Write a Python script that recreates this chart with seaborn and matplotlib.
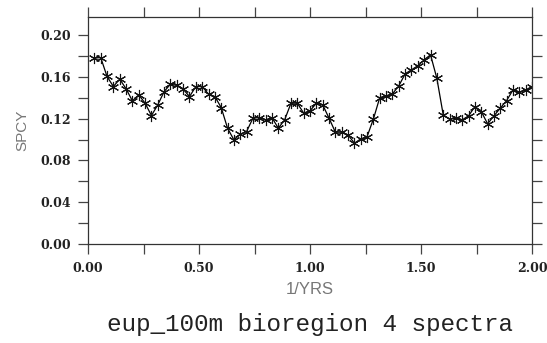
import numpy as np
import pandas as pd
import matplotlib
matplotlib.use("Agg")
import matplotlib.pyplot as plt
import seaborn as sns
from matplotlib.ticker import MultipleLocator, FormatStrFormatter

# Spectral estimate: frequency in cycles per year (k/35, k = 1..70)
freq_index = list(range(1, 71))
spcy = [
    0.1777, 0.1783, 0.1602, 0.1506, 0.1577, 0.1484, 0.1369, 0.1427, 0.1347, 0.1229,
    0.1331, 0.1458, 0.1529, 0.1516, 0.1481, 0.1410, 0.1506, 0.1506, 0.1433, 0.1410,
    0.1305, 0.1108, 0.0997, 0.1051, 0.1076, 0.1204, 0.1210, 0.1188, 0.1210, 0.1108,
    0.1188, 0.1347, 0.1347, 0.1252, 0.1274, 0.1347, 0.1331, 0.1204, 0.1070, 0.1070,
    0.1044, 0.0965, 0.1006, 0.1028, 0.1197, 0.1401, 0.1417, 0.1436, 0.1513, 0.1627,
    0.1666, 0.1704, 0.1761, 0.1809, 0.1584, 0.1236, 0.1194, 0.1204, 0.1188, 0.1226,
    0.1315, 0.1267, 0.1150, 0.1226, 0.1300, 0.1372, 0.1474, 0.1449, 0.1474, 0.1506,
]
record_years = 35
x_ticks = [0.0, 0.5, 1.0, 1.5, 2.0]
y_ticks = [0.00, 0.04, 0.08, 0.12, 0.16, 0.20]

df = pd.DataFrame({"freq": [k / record_years for k in freq_index], "spcy": spcy})

sns.set_style("ticks")
plt.rcParams["font.family"] = ["DejaVu Sans"]

fig = plt.figure(figsize=(5.47, 3.43), dpi=100)
ax = fig.add_axes([0.1609, 0.2878, 0.8117, 0.6618])

sns.lineplot(data=df, x="freq", y="spcy", ax=ax, color="black", linewidth=0.9,
             marker=(6, 2, 0), markersize=8, markeredgewidth=0.8,
             markeredgecolor="#111111", markerfacecolor="black")

ax.set_xlim(0, 2.0)
ax.set_ylim(0, 0.2167)
ax.set_xticks(x_ticks)
ax.set_yticks(y_ticks)
ax.xaxis.set_minor_locator(MultipleLocator(0.25))
ax.yaxis.set_minor_locator(MultipleLocator(0.02))
ax.xaxis.set_major_formatter(FormatStrFormatter("%.2f"))
ax.yaxis.set_major_formatter(FormatStrFormatter("%.2f"))

for which in ("major", "minor"):
    ax.tick_params(axis="both", which=which, direction="out", length=7, width=0.9,
                   color="#444444", top=True, right=True)
ax.tick_params(axis="x", which="major", labelsize=9, pad=6, labelcolor="#222222")
ax.tick_params(axis="y", which="major", labelsize=9, pad=5, labelcolor="#222222")
for lab in ax.get_xticklabels() + ax.get_yticklabels():
    lab.set_fontfamily("DejaVu Serif")
    lab.set_fontweight("bold")

for sp in ax.spines.values():
    sp.set_visible(True)
    sp.set_color("#333333")
    sp.set_linewidth(0.9)

ax.set_xlabel("1/YRS", fontsize=12, color="#777777", family="Liberation Sans", labelpad=5)
ax.set_ylabel("SPCY", fontsize=11, color="#777777", family="Liberation Sans", labelpad=8)

fig.text(0.567, 0.035, "eup_100m bioregion 4 spectra", ha="center", va="baseline",
         fontsize=17.5, family="Liberation Mono", color="#222222")

fig.savefig("out.png", dpi=100, facecolor="white")
